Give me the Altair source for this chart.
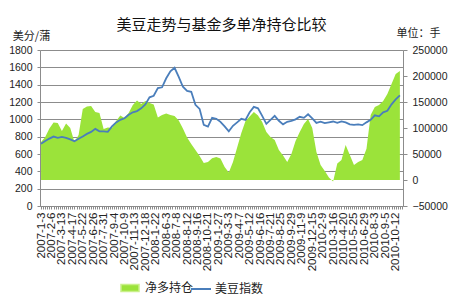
import altair as alt
import pandas as pd

# x-axis tick labels (every 5th weekly category)
tick_labels = ["2007-1-3", "2007-2-6", "2007-3-13", "2007-4-17", "2007-5-22", "2007-6-26",
               "2007-7-31", "2007-9-4", "2007-10-9", "2007-11-13", "2007-12-18", "2008-1-22",
               "2008-6-3", "2008-7-8", "2008-8-12", "2008-9-16", "2008-10-21", "2009-1-27",
               "2009-3-3", "2009-4-7", "2009-5-12", "2009-6-16", "2009-7-21", "2009-8-25",
               "2009-9-29", "2009-11-9", "2009-12-15", "2010-2-9", "2010-3-16", "2010-4-20",
               "2010-5-25", "2010-6-29", "2010-8-3", "2010-9-5", "2010-10-12"]

# 美豆指数 (cents/bushel), read every 2nd weekly category
soy_index = [717, 751, 778, 801, 786, 798, 786, 769, 746, 775,
             803, 832, 855, 890, 861, 861, 855, 919, 965, 994,
             1012, 1052, 1081, 1095, 1127, 1173, 1254, 1272, 1361, 1370,
             1474, 1555, 1595, 1491, 1376, 1329, 1318, 1168, 1121, 936,
             917, 1017, 1006, 971, 919, 861, 925, 965, 1006, 994,
             1081, 1144, 1127, 1040, 948, 994, 1040, 983, 942, 971,
             983, 1000, 1029, 1017, 1058, 1012, 959, 973, 956, 965,
             975, 959, 977, 965, 942, 936, 942, 933, 965, 994,
             1046, 1035, 1081, 1098, 1173, 1231, 1277]

# 净多持仓 (contracts), same categories
net_long = [73000, 82700, 99000, 110600, 109600, 94200, 108700, 100000, 73000, 86500,
            136500, 141300, 142300, 130800, 128800, 98000, 101000, 100000, 113500, 124000,
            119200, 128800, 144200, 152900, 146100, 151900, 148000, 145200, 120200, 125000,
            127900, 125000, 123100, 114400, 99000, 81700, 69200, 57700, 46200, 32700,
            34600, 41700, 44200, 41300, 25000, 14400, 34600, 62500, 90400, 113500,
            122100, 130800, 124000, 111500, 92300, 82700, 76900, 57700, 47100, 34600,
            50000, 75000, 92300, 107700, 117300, 100000, 53800, 28800, 17300, 5000,
            -3000, 31700, 38500, 67300, 48100, 28800, 34600, 38500, 60000, 125000,
            140400, 144200, 151900, 165400, 184600, 203800, 209600]

n_cat = len(tick_labels) * 5 - 1
df = pd.DataFrame({
    "idx": [2 * i for i in range(len(soy_index))],
    "soy": soy_index,
    "net": net_long,
    "s1": "净多持仓",
    "s2": "美豆指数",
})

GRAY = "#8c8c8c"
CJK = "Noto Sans CJK SC"
NUM = "Liberation Sans"

label_js = "[" + ",".join(f"'{t}'" for t in tick_labels) + "]"
x_axis = alt.Axis(
    values=list(range(n_cat)),
    labelExpr=f"datum.value % 5 == 0 ? {label_js}[datum.value / 5] : ''",
    labelAngle=-90, labelFont=NUM, labelFontSize=11.5, labelColor="#222222",
    labelOverlap=False, labelBound=False, labelFlush=False, labelPadding=3,
    tickSize=3, tickColor=GRAY, domainColor=GRAY, grid=False, title=None,
)
x = alt.X("idx:Q", scale=alt.Scale(domain=[-0.5, n_cat - 0.5], nice=False, zero=False), axis=x_axis)

area = alt.Chart(df).mark_area(opacity=1).encode(
    x=x,
    y=alt.Y("net:Q",
            scale=alt.Scale(domain=[-50000, 250000], nice=False),
            axis=alt.Axis(orient="right", values=list(range(-50000, 250001, 50000)), format="d",
                          grid=False, domainColor=GRAY, tickColor=GRAY, tickSize=4, labelPadding=5,
                          labelFont=NUM, labelFontSize=10.5, labelColor="#222222",
                          title="单位：手", titleAngle=0, titleX=15, titleY=-14,
                          titleAlign="center", titleBaseline="alphabetic",
                          titleFont=CJK, titleFontSize=11, titleFontWeight="normal",
                          titleColor="#222222")),
    fill=alt.Fill("s1:N", scale=alt.Scale(range=["#9be33a"]),
                  legend=alt.Legend(orient="none", legendX=80, legendY=228, title=None,
                                    direction="horizontal", padding=0,
                                    symbolType="M-1,-0.4H1V0.4H-1Z", symbolSize=324,
                                    symbolStrokeColor="#c9f08a", symbolStrokeWidth=1.5,
                                    labelFont=CJK, labelFontSize=12, labelColor="#222222",
                                    labelOffset=5)),
)

line = alt.Chart(df).mark_line(strokeWidth=1.8).encode(
    x=x,
    y=alt.Y("soy:Q",
            scale=alt.Scale(domain=[0, 1800], nice=False),
            axis=alt.Axis(orient="left", values=list(range(0, 1801, 200)), format="d",
                          grid=True, gridColor=GRAY, gridWidth=1,
                          domainColor=GRAY, tickColor=GRAY, tickSize=3, labelPadding=5,
                          labelFont=NUM, labelFontSize=10.5, labelColor="#222222",
                          title="美分/蒲", titleAngle=0, titleX=-9, titleY=-11,
                          titleAlign="center", titleBaseline="alphabetic",
                          titleFont=CJK, titleFontSize=11, titleFontWeight="normal",
                          titleColor="#222222")),
    stroke=alt.Stroke("s2:N", scale=alt.Scale(range=["#4a7ebb"]),
                      legend=alt.Legend(orient="none", legendX=150, legendY=228, title=None,
                                        direction="horizontal", padding=0,
                                        symbolType="stroke", symbolSize=400, symbolStrokeWidth=2,
                                        labelFont=CJK, labelFontSize=12, labelColor="#222222",
                                        labelOffset=3)),
)

chart = alt.layer(area, line).resolve_scale(
    y="independent", fill="independent", stroke="independent"
).properties(
    width=363, height=156,
    title=alt.TitleParams("美豆走势与基金多单净持仓比较", font=CJK, fontSize=15,
                          fontWeight="normal", color="#111111", anchor="middle",
                          frame="group", offset=-6),
    padding={"left": 40, "top": 50, "right": 47, "bottom": 94},
    autosize=alt.AutoSizeParams(type="none"),
).configure_view(stroke="transparent").configure(background="white")

chart.save("out.html", embed_options={"renderer": "svg", "actions": False})
